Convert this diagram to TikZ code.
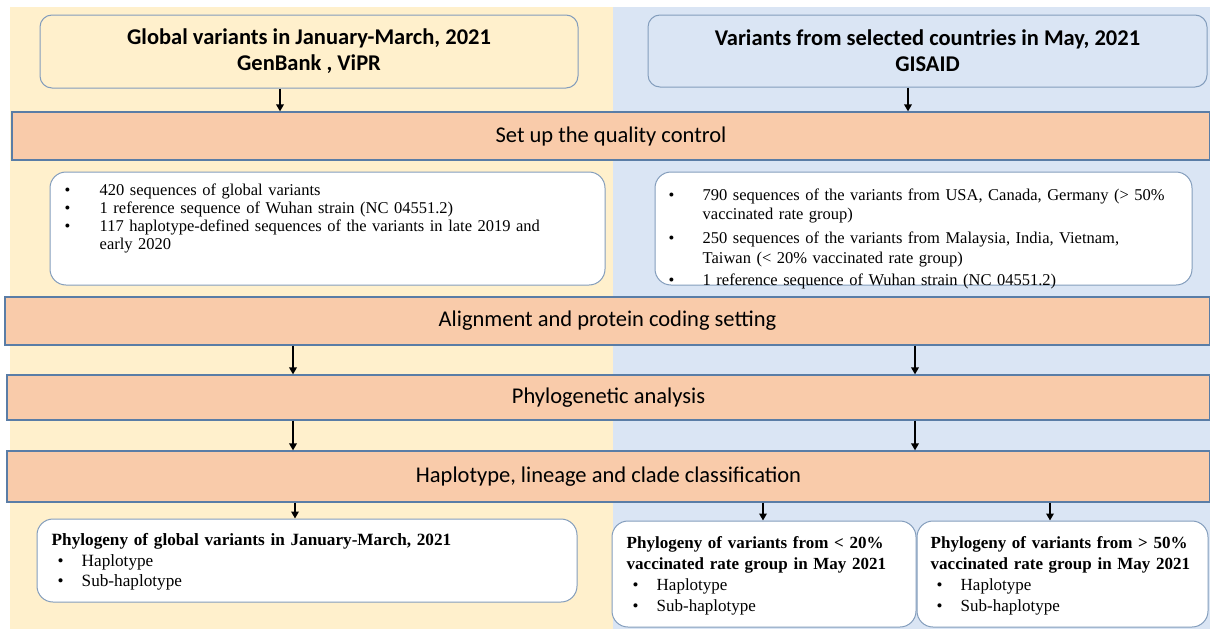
\documentclass[tikz,border=0pt]{standalone}
\usepackage{fontspec}
\setmainfont{Liberation Serif}
\newfontfamily\calibri{Carlito}
\usetikzlibrary{arrows.meta,positioning}

\definecolor{beige}{HTML}{FFF0CC}
\definecolor{paleblue}{HTML}{DAE5F4}
\definecolor{peach}{HTML}{F9CBAA}
\definecolor{edge}{HTML}{5A7DA6}

% bullet line: #1 space before bullet, #2 indent of the text
\newcommand\bitem[3]{\par\noindent\hspace*{#1}\makebox[\dimexpr#2-#1][l]{\textbullet}%
  \parbox[t]{\dimexpr\linewidth-#2}{\raggedright #3}}

\tikzset{
  srcbox/.style={draw=edge!75, line width=1pt, rounded corners=12pt, align=center,
    font=\calibri\bfseries\fontsize{22.5}{26}\selectfont},
  band/.style={draw=edge, fill=peach, line width=1.2pt, minimum height=48pt, inner sep=0pt,
    font=\calibri\fontsize{22.5}{26}\selectfont},
  listbox/.style={draw=edge!75, fill=white, line width=1pt, rounded corners=16pt},
  listtext/.style={anchor=north west, inner sep=0pt, align=left,
    font=\fontsize{16.5}{18}\selectfont},
  outtext/.style={anchor=north west, inner sep=0pt, align=left,
    font=\fontsize{17}{21}\selectfont},
  arr/.style={-{Triangle[length=7pt,width=7.5pt]}, line width=1.8pt}
}

\begin{document}
\begin{tikzpicture}[x=1pt,y=-1pt]
\useasboundingbox (0,0) rectangle (1210,629);

% the two halves
\fill[beige] (10,7) rectangle (613,629);
\fill[paleblue] (613,7) rectangle (1210,629);

% where the arrows run
\coordinate (xa) at (280,0);
\coordinate (xb) at (908,0);
\coordinate (xc) at (293,0);
\coordinate (xd) at (915,0);
\coordinate (xe) at (295,0);
\coordinate (xf) at (763,0);
\coordinate (xg) at (1050,0);

\node[srcbox, fill=beige, minimum width=538pt, minimum height=73pt] (srcL) at (309,51.5)
  {Global variants in January-March, 2021\\GenBank , ViPR};
\node[srcbox, fill=paleblue, minimum width=559pt, minimum height=72pt] (srcR) at (927.5,51)
  {Variants from selected countries in May, 2021\\GISAID};

\node[band, minimum width=1198pt] (qc) at (611,136) {Set up the quality control};
\node[band, minimum width=1205pt] (align) at (607.5,321) {Alignment and protein coding setting};
\node[band, minimum width=1203pt, minimum height=45pt] (phylo) at (608.5,397.5) {Phylogenetic analysis};
\node[band, minimum width=1203pt, minimum height=51pt] (clade) at (608.5,476.5) {Haplotype, lineage and clade classification};

% sequence sets
\node[listbox, minimum width=555pt, minimum height=113pt] (setL) at (327.5,228.5) {};
\node[listtext, text width=530pt] (txtL) at ([xshift=15pt,yshift=-6pt]setL.north west) {%
  \bitem{0pt}{35pt}{420 sequences of global variants}
  \bitem{0pt}{35pt}{1 reference sequence of Wuhan strain (NC 04551.2)}
  \bitem{0pt}{35pt}{117 haplotype-defined sequences of the variants in late 2019 and\\early 2020}};

\node[listbox, minimum width=537pt, minimum height=113pt] (setR) at (923.5,228.5) {};
\node[listtext, text width=525pt, font=\fontsize{16.5}{19.5}\selectfont] (txtR) at ([xshift=14pt,yshift=-9pt]setR.north west) {%
  \bitem{0pt}{34pt}{790 sequences of the variants from USA, Canada, Germany (> 50\%\\vaccinated rate group)}
  \par\vspace{8pt}
  \bitem{0pt}{34pt}{250 sequences of the variants from Malaysia, India, Vietnam,\\Taiwan (< 20\% vaccinated rate group)}
  \par\vspace{6pt}
  \bitem{0pt}{34pt}{1 reference sequence of Wuhan strain (NC 04551.2)}};

% results
\node[listbox, minimum width=540pt, minimum height=83pt] (outL) at (307,560.5) {};
\node[outtext, text width=520pt, font=\fontsize{17.2}{20.5}\selectfont] (resL) at ([xshift=15pt,yshift=-15pt]outL.north west) {%
  \textbf{Phylogeny of global variants in January-March, 2021}
  \bitem{6pt}{30pt}{Haplotype}
  \bitem{6pt}{30pt}{Sub-haplotype}};

\node[listbox, minimum width=304pt, minimum height=106pt] (outM) at (764,574) {};
\node[outtext, text width=295pt] (resM) at ([xshift=15pt,yshift=-16pt]outM.north west) {%
  \textbf{Phylogeny of variants from < 20\%\\vaccinated rate group in May 2021}
  \bitem{6pt}{30pt}{Haplotype}
  \bitem{6pt}{30pt}{Sub-haplotype}};

\node[listbox, minimum width=291pt, minimum height=106pt] (outR) at (1062.5,574) {};
\node[outtext, text width=285pt] (resR) at ([xshift=14pt,yshift=-16pt]outR.north west) {%
  \textbf{Phylogeny of variants from > 50\%\\vaccinated rate group in May 2021}
  \bitem{6pt}{30pt}{Haplotype}
  \bitem{6pt}{30pt}{Sub-haplotype}};

% arrows
\draw[arr] (xa |- srcL.south) -- (xa |- qc.north);
\draw[arr] (xb |- srcR.south) -- (xb |- qc.north);
\draw[arr] (xc |- align.south) -- (xc |- phylo.north);
\draw[arr] (xd |- align.south) -- (xd |- phylo.north);
\draw[arr] (xc |- phylo.south) -- (xc |- clade.north);
\draw[arr] (xd |- phylo.south) -- (xd |- clade.north);
\draw[arr] (xe |- clade.south) -- (xe |- outL.north);
\draw[arr] (xf |- clade.south) -- (xf |- outM.north);
\draw[arr] (xg |- clade.south) -- (xg |- outR.north);

\end{tikzpicture}
\end{document}
